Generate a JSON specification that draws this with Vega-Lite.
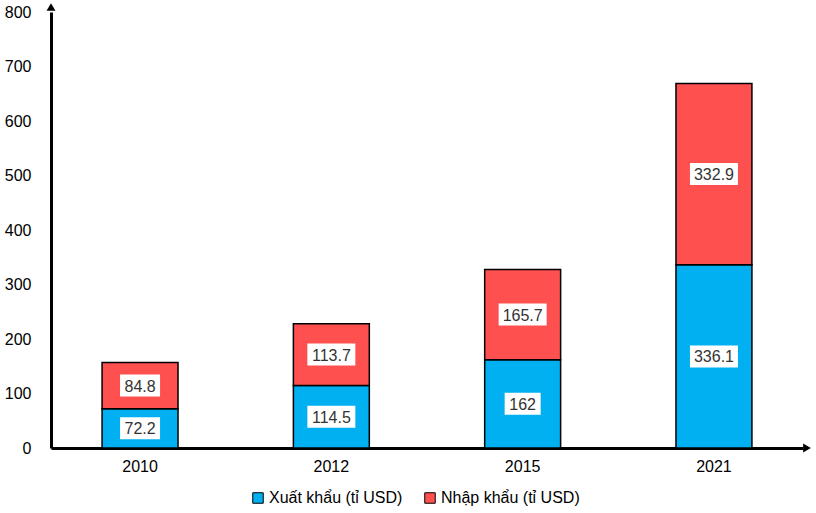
{
  "$schema": "https://vega.github.io/schema/vega-lite/v6.json",
  "width": 752,
  "height": 436,
  "autosize": {"type": "none"},
  "padding": {"left": 51, "top": 12, "right": 13, "bottom": 65},
  "config": {"view": {"stroke": null}, "font": "Liberation Sans"},
  "layer": [
    {
      "data": {
        "values": [
          {"year": "2010", "type": "Xuất khẩu (tỉ USD)", "ord": 1, "value": 72.2},
          {"year": "2010", "type": "Nhập khẩu (tỉ USD)", "ord": 2, "value": 84.8},
          {"year": "2012", "type": "Xuất khẩu (tỉ USD)", "ord": 1, "value": 114.5},
          {"year": "2012", "type": "Nhập khẩu (tỉ USD)", "ord": 2, "value": 113.7},
          {"year": "2015", "type": "Xuất khẩu (tỉ USD)", "ord": 1, "value": 162},
          {"year": "2015", "type": "Nhập khẩu (tỉ USD)", "ord": 2, "value": 165.7},
          {"year": "2021", "type": "Xuất khẩu (tỉ USD)", "ord": 1, "value": 336.1},
          {"year": "2021", "type": "Nhập khẩu (tỉ USD)", "ord": 2, "value": 332.9}
        ]
      },
      "transform": [
        {"stack": "value", "groupby": ["year"], "sort": [{"field": "ord"}], "as": ["y0", "y1"]},
        {"calculate": "(datum.y0 + datum.y1) / 2", "as": "mid"},
        {"calculate": "length(toString(datum.value))", "as": "len"}
      ],
      "layer": [
        {
          "mark": {"type": "bar", "stroke": "black", "strokeWidth": 1.5},
          "encoding": {
            "x": {
              "field": "year", "type": "ordinal",
              "scale": {"paddingInner": 0.603, "paddingOuter": 0.267},
              "axis": {
                "title": null, "labelAngle": 0, "ticks": false, "labelPadding": 10,
                "labelFontSize": 16, "labelColor": "black",
                "domainColor": "black", "domainWidth": 3
              }
            },
            "y": {
              "field": "y0", "type": "quantitative",
              "scale": {"domain": [0, 800], "nice": false},
              "axis": {
                "title": null, "grid": false, "ticks": false, "labelPadding": 20,
                "values": [0, 100, 200, 300, 400, 500, 600, 700, 800],
                "labelFontSize": 16, "labelColor": "black",
                "domainColor": "black", "domainWidth": 3
              }
            },
            "y2": {"field": "y1"},
            "color": {
              "field": "type", "type": "nominal",
              "scale": {
                "domain": ["Xuất khẩu (tỉ USD)", "Nhập khẩu (tỉ USD)"],
                "range": ["#00B0F0", "#FF5050"]
              },
              "legend": {
                "title": null, "orient": "none", "direction": "horizontal",
                "legendX": 199, "legendY": 478,
                "symbolType": "square", "symbolSize": 110,
                "symbolStrokeColor": "black", "symbolStrokeWidth": 1,
                "labelFontSize": 16, "labelColor": "black",
                "columnPadding": 19, "labelOffset": 3
              }
            }
          }
        },
        {
          "mark": {"type": "point", "filled": true, "fill": "white", "strokeWidth": 0, "opacity": 1, "size": 2304},
          "encoding": {
            "x": {"field": "year", "type": "ordinal"},
            "y": {"field": "mid", "type": "quantitative"},
            "shape": {
              "field": "len", "type": "nominal",
              "scale": {
                "domain": [3, 4, 5],
                "range": [
                  "M-0.75,-0.4583L0.75,-0.4583L0.75,0.4583L-0.75,0.4583Z",
                  "M-0.8333,-0.4583L0.8333,-0.4583L0.8333,0.4583L-0.8333,0.4583Z",
                  "M-1,-0.4583L1,-0.4583L1,0.4583L-1,0.4583Z"
                ]
              },
              "legend": null
            }
          }
        },
        {
          "mark": {"type": "text", "fontSize": 16, "color": "#333333", "baseline": "middle", "align": "center", "dy": 1},
          "encoding": {
            "x": {"field": "year", "type": "ordinal"},
            "y": {"field": "mid", "type": "quantitative"},
            "text": {"field": "value", "type": "quantitative", "format": ""}
          }
        }
      ]
    },
    {
      "data": {"values": [{}]},
      "mark": {"type": "point", "shape": "triangle-up", "filled": true, "color": "black", "opacity": 1, "size": 80, "yOffset": -5},
      "encoding": {"x": {"value": 0}, "y": {"datum": 800, "type": "quantitative"}}
    },
    {
      "data": {"values": [{}]},
      "mark": {"type": "point", "shape": "triangle-right", "filled": true, "color": "black", "opacity": 1, "size": 80, "xOffset": 4},
      "encoding": {"x": {"value": "width"}, "y": {"datum": 0, "type": "quantitative"}}
    }
  ]
}
